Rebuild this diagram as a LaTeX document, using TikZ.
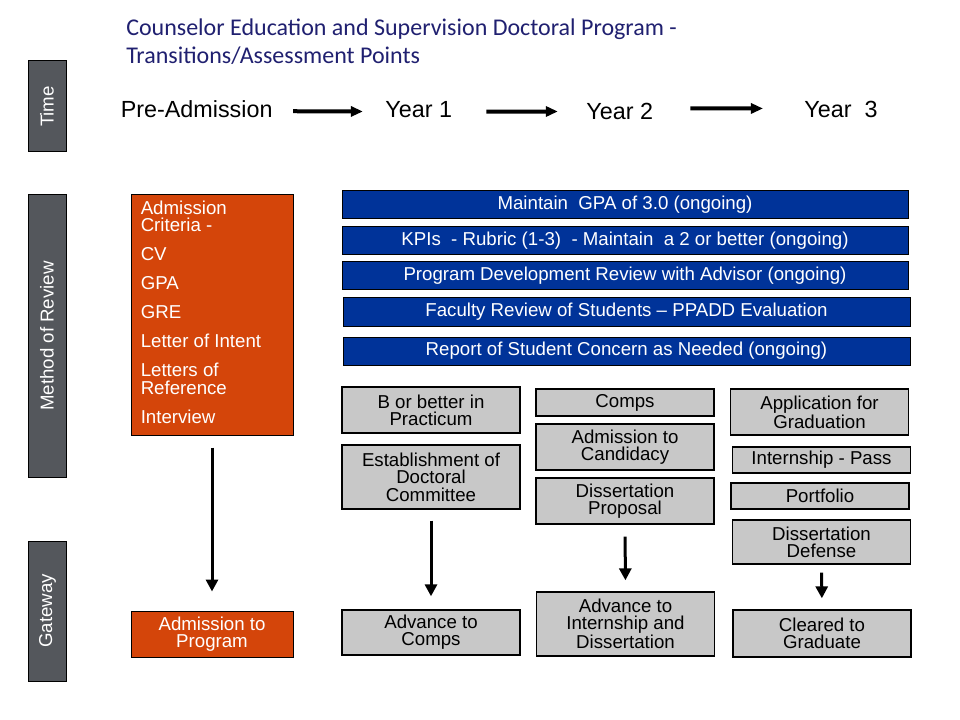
\documentclass[tikz,border=0pt]{standalone}
\usepackage{fontspec}
\setmainfont{Liberation Sans}
\newfontfamily\titlefont{Carlito}
\usetikzlibrary{arrows.meta}
\definecolor{laneGray}{RGB}{84,87,92}
\definecolor{barBlue}{RGB}{0,51,153}
\definecolor{taskGray}{RGB}{200,200,200}
\definecolor{admitOrange}{RGB}{212,69,10}
\definecolor{titleNavy}{RGB}{32,32,112}

\begin{document}
\begin{tikzpicture}[x=0.75pt, y=-0.75pt,
    lanebox/.style={draw=black, line width=0.75pt, fill=laneGray, text=white,
      rotate=90, inner sep=0pt, minimum height=28.5pt, font=\fontsize{14}{16}\selectfont},
    barbox/.style={draw=black, line width=0.75pt, fill=barBlue, text=white,
      inner sep=0pt, minimum height=21pt, font=\fontsize{14}{16}\selectfont},
    taskbox/.style={draw=black, line width=1pt, fill=taskGray, align=center,
      inner sep=0pt, minimum width=133.5pt, font=\fontsize{14}{13}\selectfont},
    admitbox/.style={draw=black, line width=0.75pt, fill=admitOrange, text=white,
      align=center, inner sep=0pt, minimum width=121.5pt, font=\fontsize{14}{13}\selectfont},
    yearlbl/.style={inner sep=0pt, anchor=base, font=\fontsize{17.5}{20}\selectfont},
    tlarrow/.style={line width=3pt, -{Triangle[length=9pt, width=7.5pt]}},
    flowarrow/.style={line width=2.25pt, -{Triangle[length=9pt, width=9pt]}}]

  \path[fill=white] (0,0) rectangle (960,720);

  % title
  \node[anchor=north west, inner sep=0pt, align=left, text=titleNavy,
    font=\titlefont\fontsize{18}{20.7}\selectfont] (title) at (126,19)
    {Counselor Education and Supervision Doctoral Program -\\Transitions/Assessment Points};

  % lanes
  \node[lanebox, minimum width=68.25pt] (ltime) at (47,106.5) {Time};
  \node[lanebox, minimum width=211.5pt] (lmethod) at (47,336) {Method of Review};
  \node[lanebox, minimum width=105pt] (lgate) at (47.5,611) {Gateway};

  % time row
  \node[yearlbl] (pre) at (196.7,117.3) {Pre-Admission};
  \node[yearlbl] (y1) at (418.7,117.3) {Year 1};
  \node[yearlbl] (y2) at (619.7,119.3) {Year 2};
  \node[yearlbl] (y3) at (841,117.7) {Year~ 3};
  \draw[tlarrow, shorten <=15.3pt, shorten >=16.7pt] ([yshift=-1.65pt]pre.east) -- ([yshift=-1.65pt]y1.west);
  \draw[tlarrow, shorten <=25.5pt, shorten >=21.2pt] ([yshift=-1.65pt]y1.east) -- ([yshift=-0.15pt]y2.west);
  \draw[tlarrow, shorten <=27.75pt, shorten >=30.9pt] ([yshift=2.1pt]y2.east) -- ([yshift=0.9pt]y3.west);

  % admission column
  \node[admitbox, minimum height=180pt] (crit) at (212,315) {};
  \node[anchor=north west, inner sep=0pt, align=left, text=white,
    font=\fontsize{14}{13}\selectfont] (critlist) at (140.5,200.7)
    {Admission\\Criteria -\\[8.75pt]CV\\[8.75pt]GPA\\[8.75pt]GRE\\[8.75pt]Letter of Intent\\[8.75pt]Letters of\\Reference\\[8.75pt]Interview};
  \node[admitbox, minimum height=34.5pt] (admprog) at (212,634) {Admission to\\Program};
  \draw[flowarrow, shorten <=9pt, shorten >=14.25pt] (crit.south) -- (admprog.north);

  % ongoing reviews
  \node[barbox, minimum width=424.5pt] (gpa) at (625,204.5) {Maintain~ GPA of 3.0 (ongoing)};
  \node[barbox, minimum width=424.5pt] (kpi) at (625,241) {KPIs~ - Rubric (1-3)~ - Maintain~ a 2 or better (ongoing)};
  \node[barbox, minimum width=424.5pt] (pdr) at (625,276) {Program Development Review with Advisor (ongoing)};
  \node[barbox, minimum width=425.25pt] (fac) at (626.5,312) {Faculty Review of Students -- PPADD Evaluation};
  \node[barbox, minimum width=425.25pt] (rep) at (626.5,351) {Report of Student Concern as Needed (ongoing)};

  % year 1
  \node[taskbox, minimum height=34.5pt] (bprac) at (431,410) {B or better in\\Practicum};
  \node[taskbox, minimum height=48pt] (estab) at (431,477) {Establishment of\\Doctoral\\Committee};
  \node[taskbox, minimum height=33.75pt] (adcomps) at (431,632.5) {Advance to\\Comps};
  \draw[flowarrow, shorten <=8.25pt, shorten >=9.75pt] (estab.south) -- (adcomps.north);

  % year 2
  \node[taskbox, minimum height=20.25pt] (comps) at (625,402.5) {Comps};
  \node[taskbox, minimum height=34.5pt] (cand) at (625,447) {Admission to\\Candidacy};
  \node[taskbox, minimum height=34.5pt] (prop) at (625,501) {Dissertation\\Proposal};
  \node[taskbox, minimum height=48pt] (adint) at (625.5,624) {Advance to\\Internship and\\Dissertation};
  \draw[flowarrow, shorten <=9pt, shorten >=8.25pt] (prop.south) -- (adint.north);

  % year 3
  \node[taskbox, minimum height=34.5pt] (appgrad) at (819.5,412) {Application for\\Graduation};
  \node[taskbox, minimum height=19.5pt] (intern) at (821.5,460) {Internship - Pass};
  \node[taskbox, minimum height=19.5pt] (portf) at (820,496) {Portfolio};
  \node[taskbox, minimum height=33pt] (defense) at (821.5,542) {Dissertation\\Defense};
  \node[taskbox, minimum height=35.25pt] (cleared) at (822,633.5) {Cleared to\\Graduate};
  \draw[flowarrow, shorten <=6pt, shorten >=8.25pt] (defense.south) -- (cleared.north);
\end{tikzpicture}
\end{document}
